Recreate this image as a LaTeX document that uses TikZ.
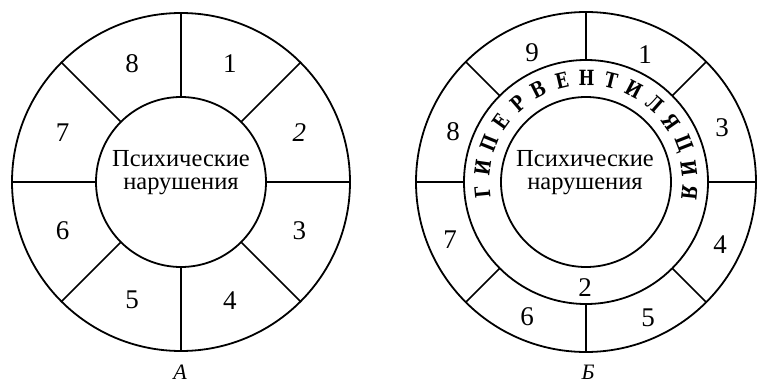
\documentclass[tikz,border=0pt]{standalone}
\usepackage{fontspec}
\setmainfont{Liberation Serif}
\newfontfamily\tw{Liberation Serif}
\newfontfamily\hyperfont[FakeStretch=0.8]{DejaVu Serif}
\begin{document}
\begin{tikzpicture}[x=1pt,y=1pt,line width=1.8pt,
  ring/.style={draw=black,line width=1.8pt},
  spoke/.style={line width=1.7pt},
  num/.style={font=\fontsize{27}{27}\tw,inner sep=0pt},
  centertext/.style={font=\fontsize{24.5}{24}\tw,inner sep=0pt,anchor=base},
  hyper/.style={font=\fontsize{21}{21}\hyperfont\bfseries,inner sep=0pt},
  caption/.style={font=\fontsize{22}{22}\tw\itshape,inner sep=0pt,anchor=base}]
\useasboundingbox (0,0) rectangle (758,384);
\fill[white] (0,0) rectangle (758,384);
% ---- left diagram A
\coordinate (L) at (181,202);
\draw[ring] (L) circle[radius=169];
\draw[ring] (L) circle[radius=85];
\foreach \a in {0,45,...,315}
  \draw[spoke] ([shift={(\a:85)}]L) -- ([shift={(\a:169)}]L);
\foreach \n/\a in {1/67.5,3/-22.5,4/-67.5,5/-112.5,6/-157.5,7/157.5,8/112.5}
  \node[num] (ln\n) at ([shift={(\a:128)}]L) {\n};
\node[num,font=\fontsize{27}{27}\tw\itshape] (ln2) at ([shift={(22.5:128)}]L) {2};
\node[centertext] (lt1) at (181,218) {Психические};
\node[centertext] (lt2) at (181,195) {нарушения};
\node[caption] (capA) at (180,5) {А};
% ---- right diagram Б
\coordinate (R) at (586,202);
\draw[ring] (R) circle[radius=170];
\draw[ring] (R) circle[radius=122];
\draw[ring] (R) circle[radius=85];
\foreach \a in {0,45,...,315}
  \draw[spoke] ([shift={(\a:122)}]R) -- ([shift={(\a:170)}]R);
\node[num] (rn9) at (532,331) {9};
\node[num] (rn1) at (645,329) {1};
\node[num] (rn3) at (722,256) {3};
\node[num] (rn4) at (720,139) {4};
\node[num] (rn5) at (648,66) {5};
\node[num] (rn6) at (527,67) {6};
\node[num] (rn7) at (450,144) {7};
\node[num] (rn8) at (453,252) {8};
\node[num] (rn2) at (585,96) {2};
\foreach \c [count=\i] in {Г,И,П,Е,Р,В,Е,Н,Т,И,Л,Я,Ц,И,Я} {
  \pgfmathsetmacro\ang{185.5-(\i-1)*13.68}
  \pgfmathsetmacro\rot{\ang-90}
  \node[hyper,rotate=\rot] (h\i) at ([shift={(\ang:104)}]R) {\c};
}
\node[centertext] (rt1) at (585,218) {Психические};
\node[centertext] (rt2) at (585,195) {нарушения};
\node[caption] (capB) at (588,5) {Б};
\end{tikzpicture}
\end{document}
